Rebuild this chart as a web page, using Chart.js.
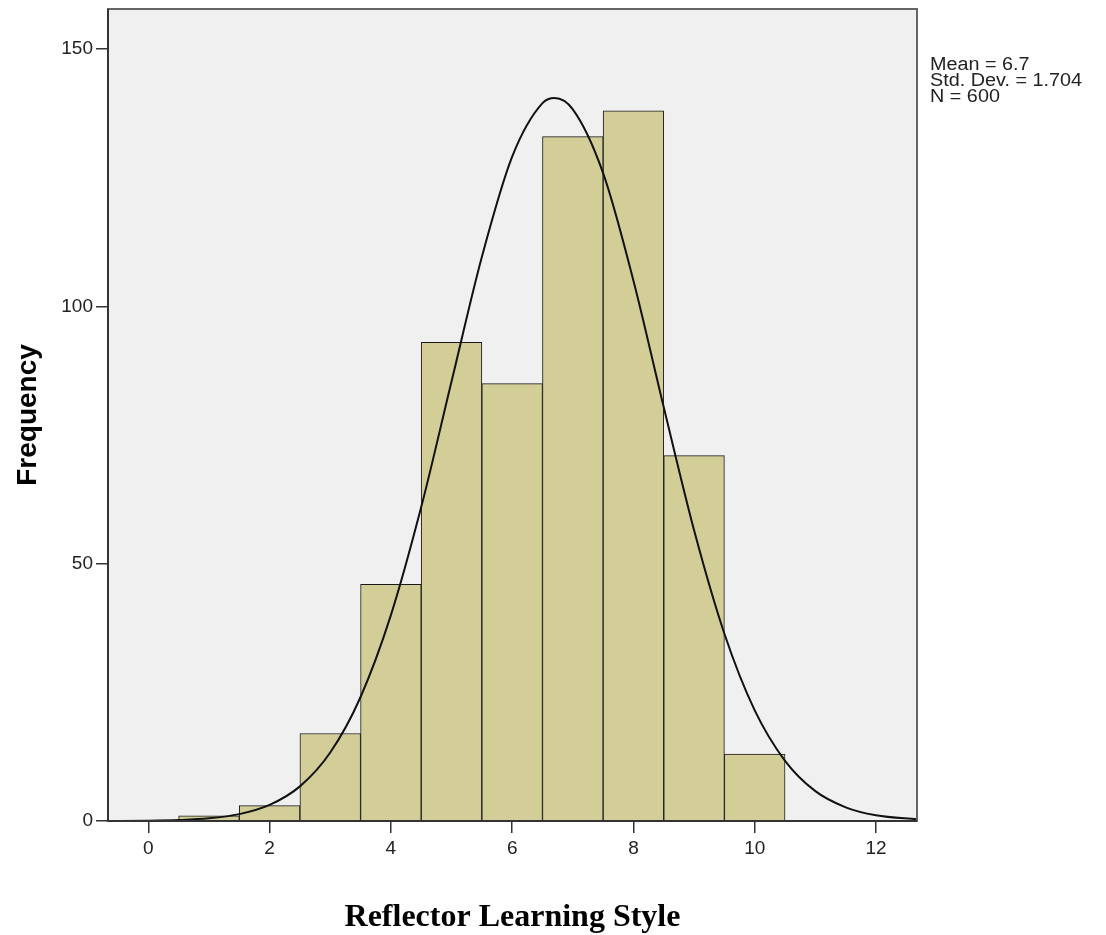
<!DOCTYPE html>
<html>
<head>
<meta charset="utf-8">
<script src="https://cdn.jsdelivr.net/npm/chart.js@4/dist/chart.umd.min.js"></script>
<style>
  html, body { margin: 0; padding: 0; background: #fff; }
  #wrap { width: 1106px; height: 935px; }
</style>
</head>
<body>
<div id="wrap"><canvas id="histChart" width="1106" height="935"></canvas></div>
<script>
// histogram data
var binCenters = [1, 2, 3, 4, 5, 6, 7, 8, 9, 10];
var binCounts = [1, 3, 17, 46, 93, 85, 133, 138, 71, 13];

// normal curve
var curveX = [-0.7, 0, 0.5, 1, 1.5, 2, 2.5, 3, 3.5, 4, 4.5, 5, 5.5, 6, 6.5, 6.7, 7, 7.5, 8, 8.5, 9, 9.5, 10, 10.5, 11, 11.5, 12, 12.7];
var curveY = [0.01, 0.06, 0.19, 0.52, 1.34, 3.13, 6.73, 13.3, 24.1, 40.0, 61.0, 85.4, 109.6, 129.1, 139.5, 140.5, 138.3, 125.9, 105.0, 80.4, 56.5, 36.4, 21.5, 11.7, 5.8, 2.66, 1.11, 0.29];

var xTicks = [0, 2, 4, 6, 8, 10, 12];
var yTicks = [0, 50, 100, 150];
var statLines = ['Mean = 6.7', 'Std. Dev. = 1.704', 'N = 600'];

var barPoints = binCenters.map(function (c, i) { return { x: c, y: binCounts[i] }; });
var curvePoints = curveX.map(function (c, i) { return { x: c, y: curveY[i] }; });

// grey plot background + frame + stats box
var plotDecor = {
    id: 'plotDecor',
    beforeDatasetsDraw: function (chart) {
        var a = chart.chartArea, c = chart.ctx;
        c.save();
        c.fillStyle = '#f0f0f0';
        c.fillRect(a.left, a.top, a.right - a.left, a.bottom - a.top);
        c.restore();
    },
    afterDraw: function (chart) {
        var a = chart.chartArea, c = chart.ctx;
        c.save();
        c.strokeStyle = '#666';
        c.lineWidth = 2;
        c.strokeRect(a.left, a.top, a.right - a.left, a.bottom - a.top);
        c.strokeStyle = '#333';
        c.beginPath();
        c.moveTo(a.left, a.top);
        c.lineTo(a.left, a.bottom);
        c.lineTo(a.right, a.bottom);
        c.stroke();
        // stats text, a bit wide like the original
        c.fillStyle = '#222';
        c.font = '18px "Liberation Sans", Arial, sans-serif';
        c.textBaseline = 'alphabetic';
        c.translate(a.right + 13, 0);
        c.scale(1.1, 1);
        for (var i = 0; i < statLines.length; i++) {
            c.fillText(statLines[i], 0, 70 + i * 16);
        }
        c.restore();
    }
};

// no extra room for overhanging tick labels
function noLabelPad(s) {
    s.paddingTop = 0;
    s.paddingBottom = 0;
    s.paddingLeft = 0;
    s.paddingRight = 0;
}

var ctx = document.getElementById('histChart').getContext('2d');
var chart = new Chart(ctx, {
    type: 'bar',
    data: {
        datasets: [{
            type: 'line',
            data: curvePoints,
            borderColor: '#111',
            borderWidth: 2,
            pointRadius: 0,
            cubicInterpolationMode: 'monotone',
            fill: false,
            order: 0
        }, {
            type: 'bar',
            data: barPoints,
            backgroundColor: '#d3ce97',
            borderColor: '#1a1a1a',
            borderWidth: 1,
            barPercentage: 1,
            categoryPercentage: 1,
            order: 1
        }]
    },
    options: {
        responsive: false,
        animation: false,
        layout: { padding: { top: 9, right: 189, left: 0, bottom: 0 } },
        plugins: { legend: { display: false }, tooltip: { enabled: false } },
        scales: {
            x: {
                type: 'linear',
                offset: false,
                min: -0.665,
                max: 12.676,
                afterBuildTicks: function (s) { s.ticks = xTicks.map(function (v) { return { value: v }; }); },
                afterFit: function (s) { s.height = 114; noLabelPad(s); },
                grid: { offset: false, drawOnChartArea: false, drawTicks: true, tickLength: 12, color: '#333', lineWidth: 1.5 },
                border: { display: false },
                ticks: { color: '#222', padding: 4, font: { family: '"Liberation Sans", Arial, sans-serif', size: 19 } },
                title: {
                    display: true,
                    text: 'Reflector Learning Style',
                    color: '#000',
                    padding: { top: 0, bottom: 0 },
                    font: { family: '"Liberation Serif", "Times New Roman", serif', size: 32, weight: 'bold', lineHeight: 1.1 }
                }
            },
            y: {
                type: 'linear',
                min: 0,
                max: 157.8,
                afterBuildTicks: function (s) { s.ticks = yTicks.map(function (v) { return { value: v }; }); },
                afterFit: function (s) { s.width = 108; noLabelPad(s); },
                grid: { drawOnChartArea: false, drawTicks: true, tickLength: 12, color: '#333', lineWidth: 1.5 },
                border: { display: false },
                ticks: { color: '#222', padding: 3, font: { family: '"Liberation Sans", Arial, sans-serif', size: 19 } },
                title: {
                    display: true,
                    text: 'Frequency',
                    color: '#000',
                    padding: { top: 11, bottom: 0 },
                    font: { family: '"Liberation Sans", Arial, sans-serif', size: 28, weight: 'bold', lineHeight: 1.2 }
                }
            }
        }
    },
    plugins: [plotDecor]
});
</script>
</body>
</html>
